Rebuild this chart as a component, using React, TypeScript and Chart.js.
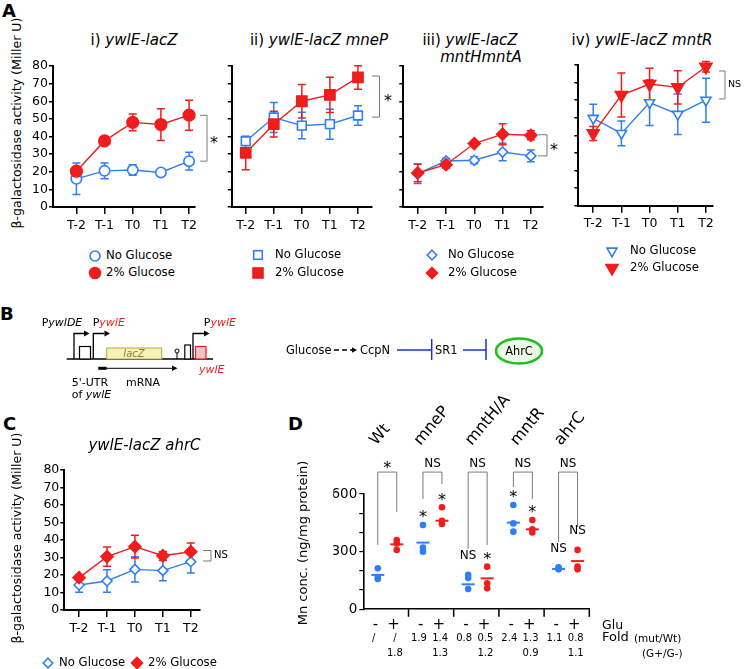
import React, { useEffect, useRef } from 'react';
import { Chart, registerables } from 'chart.js';

Chart.register(...registerables);

const FONT = '"DejaVu Sans", "Liberation Sans", Arial, sans-serif';
const BLUE = '#2f7ef5';
const RED = '#ef1d1d';
const GRAY = '#7a7a7a';

// ---------------- data ----------------
const timeLabels = ['T-2', 'T-1', 'T0', 'T1', 'T2'];

// A i) ywlE-lacZ
const aWtNoGlc = [16.0, 20.5, 21.0, 19.6, 26.0];
const aWtNoGlcErr = [8.9, 4.5, 3.0, 1.5, 5.0];
const aWtGlc = [20.3, 37.5, 48.0, 46.8, 52.1];
const aWtGlcErr = [2.0, 1.8, 4.8, 9.0, 8.5];
// A ii) ywlE-lacZ mneP
const aMnePNoGlc = [37.3, 50.8, 46.2, 47.0, 51.9];
const aMnePNoGlcErr = [1.5, 8.5, 7.5, 8.5, 5.5];
const aMnePGlc = [30.7, 47.0, 60.0, 63.6, 73.5];
const aMnePGlcErr = [9.5, 7.3, 9.5, 10.0, 6.7];
// A iii) ywlE-lacZ mntHmntA
const aMntHANoGlc = [18.9, 26.1, 26.5, 31.2, 29.0];
const aMntHANoGlcErr = [5.5, 1.5, 2.0, 5.0, 3.3];
const aMntHAGlc = [19.3, 24.0, 36.0, 41.3, 40.7];
const aMntHAGlcErr = [5.0, 2.0, 1.0, 6.0, 2.5];
// A iv) ywlE-lacZ mntR
const aMntRNoGlc = [49.7, 41.1, 58.6, 52.0, 60.0];
const aMntRNoGlcErr = [8.0, 7.0, 13.0, 11.5, 12.5];
const aMntRGlc = [41.1, 62.9, 69.2, 67.3, 79.0];
const aMntRGlcErr = [4.0, 12.5, 9.0, 9.5, 3.0];
// C ywlE-lacZ ahrC
const cAhrCNoGlc = [14.3, 16.6, 23.2, 22.5, 27.6];
const cAhrCNoGlcErr = [4.2, 6.4, 7.2, 5.8, 6.5];
const cAhrCGlc = [18.5, 30.5, 36.2, 31.0, 33.3];
const cAhrCGlcErr = [1.5, 5.5, 6.5, 2.5, 5.0];

// D Mn concentration
const dStrains = ['Wt', 'mneP', 'mntH/A', 'mntR', 'ahrC'];
const dMnNoGlc = [[213, 168, 158], [439, 321, 300], [179, 163, 106], [543, 447, 404], [218, 213, 208]];
const dMnGlc = [[361, 343, 309], [531, 461, 444], [222, 135, 109], [465, 416, 400], [309, 222, 208]];
const dLineNoGlc = [179, 347, 130, 451, 210];
const dLineGlc = [338, 461, 161, 416, 251];
const dPairSig = ['*', 'NS', 'NS', 'NS', 'NS'];
const dNoGlcSig = ['', '*', 'NS', '*', 'NS'];
const dGlcSig = ['', '*', '*', '*', 'NS'];
const dBracketTop = 714;
const dBracketEndNoGlc = [335, 574, 314, 636, 350];
const dBracketEndGlc = [507, 652, 335, 574, 428];
const dGluLabels = ['-', '+'];
const dFoldNoGlc = ['/', '1.9', '0.8', '2.4', '1.1'];
const dFoldGlc = ['/', '1.4', '0.5', '1.3', '0.8'];
const dFoldGluRatio = ['1.8', '1.3', '1.2', '0.9', '1.1'];

// ---------------- plugins ----------------
const errorBarPlugin = {
  id: 'errorBars',
  beforeDatasetsDraw(chart: any) {
    const { ctx } = chart;
    const xs = chart.scales.x;
    const ys = chart.scales.y;
    for (let di = chart.data.datasets.length - 1; di >= 0; di--) {
      const ds = chart.data.datasets[di];
      if (!ds.errors) continue;
      ctx.save();
      ctx.strokeStyle = ds.borderColor;
      ctx.lineWidth = 1.5;
      ds.data.forEach((p: any, i: number) => {
        const e = ds.errors[i];
        if (!e) return;
        const x = xs.getPixelForValue(p.x);
        const y1 = ys.getPixelForValue(p.y + e);
        const y2 = ys.getPixelForValue(p.y - e);
        ctx.beginPath();
        ctx.moveTo(x, y1);
        ctx.lineTo(x, y2);
        ctx.moveTo(x - 4, y1);
        ctx.lineTo(x + 4, y1);
        ctx.moveTo(x - 4, y2);
        ctx.lineTo(x + 4, y2);
        ctx.stroke();
      });
      ctx.restore();
    }
  },
};

function drawSig(ctx: any, text: string, x: number, yCenter: number, size: number, align: string) {
  ctx.save();
  ctx.fillStyle = '#000';
  ctx.textAlign = align;
  if (text === '*') {
    ctx.font = `${size + 4}px ${FONT}`;
    ctx.textBaseline = 'alphabetic';
    ctx.fillText('*', x, yCenter + 0.58 * (size + 4));
  } else {
    ctx.font = `${size}px ${FONT}`;
    ctx.textBaseline = 'middle';
    ctx.fillText(text, x, yCenter);
  }
  ctx.restore();
}

function bracketPlugin(b: any) {
  return {
    id: 'sigBracket',
    afterDraw(chart: any) {
      const { ctx, chartArea } = chart;
      const ys = chart.scales.y;
      const xa = chartArea.right + b.armFrom;
      const xb = chartArea.right + b.armTo;
      const y1 = ys.getPixelForValue(b.from);
      const y2 = ys.getPixelForValue(b.to);
      ctx.save();
      ctx.strokeStyle = GRAY;
      ctx.lineWidth = 1;
      ctx.beginPath();
      ctx.moveTo(xa, y1);
      ctx.lineTo(xb, y1);
      ctx.lineTo(xb, y2);
      ctx.lineTo(xa, y2);
      ctx.stroke();
      ctx.restore();
      drawSig(ctx, b.text, chartArea.right + b.textDx, (y1 + y2) / 2, b.textSize, 'left');
    },
  };
}

// ---------------- configs ----------------
const axisGrid = (len: number) => ({
  display: true,
  drawOnChartArea: false,
  drawTicks: true,
  tickLength: len,
  color: '#000',
  lineWidth: 1.5,
});
const axisBorder = { display: true, color: '#000', width: 2 };

function timeConfig(spec: any) {
  const yW = spec.yLabels ? 30 : 8;
  const xH = 32;
  const r = spec.rect;
  const padding = {
    left: spec.axisX - r.left - yW,
    right: r.left + r.width - spec.plotRight,
    top: spec.plotTop - r.top,
    bottom: r.top + r.height - spec.plotBottom - xH,
  };
  return {
    type: 'line',
    data: {
      datasets: spec.series.map((s: any) => ({
        label: s.label,
        data: s.values.map((v: number, i: number) => ({ x: i, y: v })),
        errors: s.errors,
        borderColor: s.color,
        backgroundColor: s.filled ? s.color : '#ffffff',
        borderWidth: 1.4,
        pointStyle: s.pointStyle,
        pointRadius: s.radius,
        pointRotation: s.rotation || 0,
        pointBorderWidth: 1.6,
        pointBackgroundColor: s.filled ? s.color : '#ffffff',
        pointBorderColor: s.color,
        tension: 0,
        fill: false,
        clip: false,
      })),
    },
    options: {
      responsive: false,
      animation: false,
      devicePixelRatio: 1,
      events: [],
      layout: { padding },
      plugins: { legend: { display: false }, tooltip: { enabled: false }, title: { display: false } },
      scales: {
        x: {
          type: 'linear',
          min: spec.xMin,
          max: spec.xMax,
          afterBuildTicks: (sc: any) => {
            sc.ticks = timeLabels.map((_, i) => ({ value: i }));
          },
          afterFit: (sc: any) => {
            sc.height = xH;
          },
          ticks: {
            autoSkip: false,
            maxRotation: 0,
            padding: 4,
            color: '#000',
            font: { family: FONT, size: 12.5 },
            callback: (v: number) => timeLabels[Math.round(v)] ?? '',
          },
          grid: axisGrid(7),
          border: axisBorder,
        },
        y: {
          min: 0,
          max: 80,
          afterFit: (sc: any) => {
            sc.width = yW;
          },
          ticks: {
            stepSize: 10,
            autoSkip: false,
            padding: 1,
            color: '#000',
            font: { family: FONT, size: 12.5 },
            callback: (v: number) => (spec.yLabels ? String(v) : ''),
          },
          grid: axisGrid(4),
          border: axisBorder,
        },
      },
    },
    plugins: [errorBarPlugin, bracketPlugin(spec.bracket)],
  };
}

const D_OFF_NO = 0.32;
const D_OFF_G = 0.74;
const D_TICK_NO = 0.27;
const D_TICK_G = 0.67;
const D_FOLD_NO = 0.23;
const D_FOLD_G = 0.7;

function dConfig(rect: any) {
  const axisX = 363.3;
  const plotRight = 589.3;
  const plotTop = 494;
  const plotBottom = 609.3;
  const yW = 30;
  const xH = 30;
  const ox = rect.left;
  const oy = rect.top;
  const padding = {
    left: axisX - ox - yW,
    right: ox + rect.width - plotRight,
    top: plotTop - oy,
    bottom: oy + rect.height - plotBottom - xH,
  };
  const dots = (arr: number[][], off: number) => arr.flatMap((vals, g) => vals.map((v) => ({ x: g + off, y: v })));
  const means = (arr: number[], off: number) => arr.map((v, g) => ({ x: g + off, y: v }));
  const dotSet = (label: string, data: any, color: string) => ({
    label,
    data,
    pointStyle: 'circle',
    pointRadius: 3.3,
    pointBorderWidth: 0,
    pointBackgroundColor: color,
    pointBorderColor: color,
    backgroundColor: color,
    borderColor: color,
    clip: false,
  });
  const lineSet = (label: string, data: any, color: string) => ({
    label,
    data,
    pointStyle: 'line',
    pointRadius: 6.5,
    pointBorderWidth: 2,
    pointBorderColor: color,
    borderColor: color,
    backgroundColor: color,
    clip: false,
  });
  const annot = {
    id: 'dAnnot',
    afterDraw(chart: any) {
      const { ctx, chartArea } = chart;
      const xs = chart.scales.x;
      const ys = chart.scales.y;
      const px = (v: number) => xs.getPixelForValue(v);
      const py = (v: number) => ys.getPixelForValue(v);
      ctx.save();
      // group separator ticks
      ctx.strokeStyle = '#000';
      ctx.lineWidth = 1.5;
      for (let g = 1; g <= dStrains.length; g++) {
        ctx.beginPath();
        ctx.moveTo(px(g), chartArea.bottom);
        ctx.lineTo(px(g), chartArea.bottom + 7.5);
        ctx.stroke();
      }
      // brackets
      ctx.strokeStyle = GRAY;
      ctx.lineWidth = 1;
      const topY = py(dBracketTop);
      dStrains.forEach((_, g) => {
        const xl = px(g + D_OFF_NO);
        const xr = px(g + D_OFF_G);
        ctx.beginPath();
        ctx.moveTo(xl, py(dBracketEndNoGlc[g]));
        ctx.lineTo(xl, topY);
        ctx.lineTo(xr, topY);
        ctx.lineTo(xr, py(dBracketEndGlc[g]));
        ctx.stroke();
        drawSig(ctx, dPairSig[g], (xl + xr) / 2, topY - 8, 12, 'center');
        const mxNo = Math.max(...dMnNoGlc[g]);
        const mxG = Math.max(...dMnGlc[g]);
        if (dNoGlcSig[g]) drawSig(ctx, dNoGlcSig[g], xl, py(mxNo) - (dNoGlcSig[g] === '*' ? 12 : 19), 12, 'center');
        if (dGlcSig[g]) drawSig(ctx, dGlcSig[g], xr, py(mxG) - (dGlcSig[g] === '*' ? 12 : 19), 12, 'center');
      });
      // rotated strain labels
      const labelOffsets = [13, 12, 18, 18, 17];
      ctx.fillStyle = '#000';
      ctx.font = `16px ${FONT}`;
      ctx.textAlign = 'left';
      ctx.textBaseline = 'alphabetic';
      dStrains.forEach((s, g) => {
        ctx.save();
        ctx.translate(px(g) + labelOffsets[g], 446 - oy);
        ctx.rotate((-50 * Math.PI) / 180);
        ctx.fillText(s, 0, 0);
        ctx.restore();
      });
      // Glu / Fold rows
      ctx.textBaseline = 'middle';
      ctx.textAlign = 'center';
      ctx.font = `10px ${FONT}`;
      dStrains.forEach((_, g) => {
        ctx.fillText(dFoldNoGlc[g], px(g + D_FOLD_NO), 638 - oy);
        ctx.fillText(dFoldGlc[g], px(g + D_FOLD_G), 638 - oy);
        ctx.fillText(dFoldGluRatio[g], px(g + D_FOLD_G), 653 - oy);
      });
      ctx.textAlign = 'left';
      ctx.font = `12.5px ${FONT}`;
      ctx.fillText('Glu', 602 - ox, 626 - oy);
      ctx.font = `13px ${FONT}`;
      ctx.fillText('Fold', 602 - ox, 638 - oy);
      ctx.font = `10.5px ${FONT}`;
      ctx.fillText('(mut/Wt)', 634 - ox, 639 - oy);
      ctx.fillText('(G+/G-)', 642 - ox, 654 - oy);
      ctx.restore();
    },
  };
  return {
    type: 'scatter',
    data: {
      datasets: [
        lineSet('G+ mean', means(dLineGlc, D_OFF_G), RED),
        lineSet('G- mean', means(dLineNoGlc, D_OFF_NO), BLUE),
        dotSet('Glucose +', dots(dMnGlc, D_OFF_G), RED),
        dotSet('Glucose -', dots(dMnNoGlc, D_OFF_NO), BLUE),
      ],
    },
    options: {
      responsive: false,
      animation: false,
      devicePixelRatio: 1,
      events: [],
      layout: { padding },
      plugins: { legend: { display: false }, tooltip: { enabled: false } },
      scales: {
        x: {
          type: 'linear',
          min: 0,
          max: dStrains.length,
          afterBuildTicks: (sc: any) => {
            sc.ticks = dStrains.flatMap((_, g) => [{ value: g + D_TICK_NO }, { value: g + D_TICK_G }]);
          },
          afterFit: (sc: any) => {
            sc.height = xH;
          },
          ticks: {
            autoSkip: false,
            maxRotation: 0,
            padding: 7,
            color: '#000',
            font: { family: FONT, size: 15 },
            callback: (_v: number, i: number) => dGluLabels[i % 2],
          },
          grid: { display: true, drawOnChartArea: false, drawTicks: false },
          border: { display: true, color: '#000', width: 1.6 },
        },
        y: {
          min: 0,
          max: 600,
          afterFit: (sc: any) => {
            sc.width = yW;
          },
          ticks: {
            stepSize: 100,
            autoSkip: false,
            padding: 2,
            color: '#000',
            font: { family: FONT, size: 13.5 },
            callback: (v: number) => (v % 300 === 0 ? String(v) : ''),
          },
          grid: { display: true, drawOnChartArea: false, drawTicks: true, tickLength: 4, color: '#000', lineWidth: 1.2 },
          border: { display: true, color: '#000', width: 1.6 },
        },
      },
    },
    plugins: [annot],
  };
}

// ---------------- panel specs ----------------
const S = (label: string, values: number[], errors: number[], color: string, filled: boolean, pointStyle: string, radius: number, rotation = 0) => ({
  label, values, errors, color, filled, pointStyle, radius, rotation,
});

const specs = [
  {
    rect: { left: 0, top: 55, width: 230, height: 190 },
    axisX: 53, plotRight: 195, plotTop: 66, plotBottom: 207, xMin: -0.83, xMax: 4.21, yLabels: true,
    series: [
      S('2% Glucose', aWtGlc, aWtGlcErr, RED, true, 'circle', 5.8),
      S('No Glucose', aWtNoGlc, aWtNoGlcErr, BLUE, false, 'circle', 5.2),
    ],
    bracket: { from: 52, to: 26, armFrom: 5, armTo: 12, text: '*', textDx: 15, textSize: 12 },
  },
  {
    rect: { left: 215, top: 55, width: 185, height: 190 },
    axisX: 231.7, plotRight: 372, plotTop: 66, plotBottom: 207, xMin: -0.5, xMax: 4.5, yLabels: false,
    series: [
      S('2% Glucose', aMnePGlc, aMnePGlcErr, RED, true, 'rect', 7.2),
      S('No Glucose', aMnePNoGlc, aMnePNoGlcErr, BLUE, false, 'rect', 6.2),
    ],
    bracket: { from: 74.3, to: 51, armFrom: 0, armTo: 7.5, text: '*', textDx: 12, textSize: 12 },
  },
  {
    rect: { left: 390, top: 55, width: 180, height: 190 },
    axisX: 403.3, plotRight: 543, plotTop: 66, plotBottom: 207, xMin: -0.51, xMax: 4.43, yLabels: false,
    series: [
      S('2% Glucose', aMntHAGlc, aMntHAGlcErr, RED, true, 'rectRot', 6),
      S('No Glucose', aMntHANoGlc, aMntHANoGlcErr, BLUE, false, 'rectRot', 5),
    ],
    bracket: { from: 41, to: 29, armFrom: -5, armTo: 4, text: '*', textDx: 7, textSize: 12 },
  },
  {
    rect: { left: 565, top: 55, width: 179, height: 190 },
    axisX: 578.3, plotRight: 713, plotTop: 65, plotBottom: 205.7, xMin: -0.53, xMax: 4.25, yLabels: false,
    series: [
      S('2% Glucose', aMntRGlc, aMntRGlcErr, RED, true, 'triangle', 7, 180),
      S('No Glucose', aMntRNoGlc, aMntRNoGlcErr, BLUE, false, 'triangle', 5.8, 180),
    ],
    bracket: { from: 76.6, to: 60.7, armFrom: 6, armTo: 12, text: 'NS', textDx: 15, textSize: 9.5 },
  },
];

const specC = {
  rect: { left: 0, top: 460, width: 240, height: 190 },
  axisX: 64.3, plotRight: 200, plotTop: 470, plotBottom: 610, xMin: -0.53, xMax: 4.33, yLabels: true,
  series: [
    S('2% Glucose', cAhrCGlc, cAhrCGlcErr, RED, true, 'rectRot', 6),
    S('No Glucose', cAhrCNoGlc, cAhrCNoGlcErr, BLUE, false, 'rectRot', 5),
  ],
  bracket: { from: 34, to: 28, armFrom: 3, armTo: 11, text: 'NS', textDx: 14, textSize: 10 },
};

const rectD = { left: 300, top: 390, width: 444, height: 279 };

// ---------------- components ----------------
function ChartCanvas({ rect, build }: { rect: any; build: () => any }) {
  const ref = useRef<HTMLCanvasElement>(null);
  useEffect(() => {
    const chart = new Chart(ref.current as HTMLCanvasElement, build());
    return () => chart.destroy();
  }, []);
  return (
    <canvas
      ref={ref}
      width={rect.width}
      height={rect.height}
      style={{ position: 'absolute', left: rect.left, top: rect.top, width: rect.width, height: rect.height }}
    />
  );
}

function Txt({ x, y, size, children, anchor = 'middle', color = '#000', weight = 'normal', rotate = 0 }: any) {
  const tx = anchor === 'start' ? '0' : anchor === 'end' ? '-100%' : '-50%';
  return (
    <div
      style={{
        position: 'absolute',
        left: x,
        top: y,
        transform: `translate(${tx}, -50%)${rotate ? ` rotate(${rotate}deg)` : ''}`,
        fontFamily: FONT,
        fontSize: size,
        lineHeight: 1,
        whiteSpace: 'nowrap',
        color,
        fontWeight: weight,
      }}
    >
      {children}
    </div>
  );
}

function Marker({ x, y, shape, filled, color, r }: any) {
  const s = 18;
  const c = s / 2;
  let el: any;
  if (shape === 'circle') el = <circle cx={c} cy={c} r={r} />;
  else if (shape === 'square') el = <rect x={c - r} y={c - r} width={2 * r} height={2 * r} />;
  else if (shape === 'diamond') el = <polygon points={`${c},${c - r} ${c + r},${c} ${c},${c + r} ${c - r},${c}`} />;
  else el = <polygon points={`${c - 0.866 * r},${c - 0.5 * r} ${c + 0.866 * r},${c - 0.5 * r} ${c},${c + r}`} />;
  return (
    <svg width={s} height={s} style={{ position: 'absolute', left: x - c, top: y - c }}>
      <g fill={filled ? color : '#fff'} stroke={color} strokeWidth={1.6}>
        {el}
      </g>
    </svg>
  );
}

const YLABEL_A = 'β-galactosidase activity (Miller U)';

function PanelB() {
  const it = { fontStyle: 'italic' } as any;
  return (
    <svg width={744} height={669} style={{ position: 'absolute', left: 0, top: 0 }} fontFamily={FONT}>
      {/* gene diagram */}
      <line x1={66.7} y1={359} x2={213} y2={359} stroke="#000" strokeWidth={1.5} />
      <path d="M74 359 V333.5 H84" fill="none" stroke="#000" strokeWidth={1.3} />
      <polygon points="84,330.5 89.5,333.5 84,336.5" fill="#000" />
      <rect x={79.5} y={346.5} width={11} height={12.5} fill="#fff" stroke="#000" strokeWidth={1.2} />
      <path d="M93.3 359 V333.5 H104.5" fill="none" stroke="#000" strokeWidth={1.3} />
      <polygon points="104.5,330.5 110,333.5 104.5,336.5" fill="#000" />
      <rect x={106.7} y={348} width={55} height={11} fill="#f6f1b4" stroke="#b7a93a" strokeWidth={1} />
      <text x={134} y={357} fontSize={10} textAnchor="middle" fill="#8c8038" style={it}>lacZ</text>
      <line x1={177} y1={359} x2={177} y2={353} stroke="#000" strokeWidth={1} />
      <circle cx={177} cy={351} r={2} fill="#fff" stroke="#000" strokeWidth={1} />
      <rect x={184.8} y={345} width={5.7} height={14} fill="#fff" stroke="#000" strokeWidth={1.2} />
      <path d="M193 359 V333.5 H204" fill="none" stroke="#000" strokeWidth={1.3} />
      <polygon points="204,330.5 209.5,333.5 204,336.5" fill="#000" />
      <rect x={195.5} y={346.5} width={10.5} height={12.5} fill="#f7c2c2" stroke={RED} strokeWidth={1.2} />
      <text x={41.7} y={326} fontSize={11}>P<tspan style={it}>ywlDE</tspan></text>
      <text x={92.7} y={326} fontSize={11}>P<tspan style={it} fill={RED}>ywlE</tspan></text>
      <text x={203.8} y={326} fontSize={11}>P<tspan style={it} fill={RED}>ywlE</tspan></text>
      <text x={199} y={373} fontSize={11} fill={RED} style={it}>ywlE</text>
      <line x1={98.3} y1={368.3} x2={106.7} y2={368.3} stroke="#000" strokeWidth={3} />
      <line x1={106.7} y1={368.3} x2={172} y2={368.3} stroke="#000" strokeWidth={1} />
      <polygon points="172,365.5 177.5,368.3 172,371.1" fill="#000" />
      <text x={71.7} y={386} fontSize={11}>5'-UTR</text>
      <text x={126} y={386} fontSize={11}>mRNA</text>
      <text x={71.7} y={398} fontSize={11}>of <tspan style={it}>ywlE</tspan></text>
      {/* regulatory cascade */}
      <text x={286} y={354} fontSize={11.4}>Glucose</text>
      <line x1={334} y1={350} x2={352} y2={350} stroke="#000" strokeWidth={1.3} strokeDasharray="5 3" />
      <polygon points="352,347.3 357,350 352,352.7" fill="#000" />
      <text x={360} y={354} fontSize={11.4}>CcpN</text>
      <line x1={397} y1={350} x2={431.7} y2={350} stroke="#1a2fd8" strokeWidth={1.5} />
      <line x1={431.7} y1={339} x2={431.7} y2={360} stroke="#1a2fd8" strokeWidth={1.5} />
      <text x={435} y={354} fontSize={11.4}>SR1</text>
      <line x1={463} y1={350} x2={486} y2={350} stroke="#1a2fd8" strokeWidth={1.5} />
      <line x1={486} y1={339} x2={486} y2={360} stroke="#1a2fd8" strokeWidth={1.5} />
      <ellipse cx={519} cy={351} rx={23} ry={12.5} fill="#eef9e8" stroke="#1fbf1f" strokeWidth={2.6} />
      <text x={519} y={355} fontSize={11.4} textAnchor="middle">AhrC</text>
    </svg>
  );
}

export default function App() {
  return (
    <div style={{ position: 'absolute', left: 0, top: 0, width: 744, height: 669, background: '#fff', overflow: 'hidden' }}>
      {/* Panel letters */}
      <Txt x={2} y={11} size={18} anchor="start" weight="bold">A</Txt>
      <Txt x={0} y={314} size={18} anchor="start" weight="bold">B</Txt>
      <Txt x={3} y={424} size={18} anchor="start" weight="bold">C</Txt>
      <Txt x={288} y={424} size={18} anchor="start" weight="bold">D</Txt>

      {/* Panel A titles */}
      <Txt x={134} y={40} size={15}>i) <i>ywlE-lacZ</i></Txt>
      <Txt x={319} y={40} size={15}>ii) <i>ywlE-lacZ mneP</i></Txt>
      <Txt x={470} y={40} size={15}>iii) <i>ywlE-lacZ</i></Txt>
      <Txt x={481} y={57} size={15}><i>mntHmntA</i></Txt>
      <Txt x={642} y={40} size={15}>iv) <i>ywlE-lacZ mntR</i></Txt>
      <Txt x={16.5} y={123} size={12.6} rotate={-90}>{YLABEL_A}</Txt>

      {specs.map((sp, i) => (
        <ChartCanvas key={i} rect={sp.rect} build={() => timeConfig(sp)} />
      ))}

      {/* Panel A legends */}
      <Marker x={95} y={256} shape="circle" filled={false} color={BLUE} r={5} />
      <Txt x={106} y={256} size={11.7} anchor="start">No Glucose</Txt>
      <Marker x={95} y={273} shape="circle" filled color={RED} r={5.5} />
      <Txt x={106} y={273} size={11.7} anchor="start">2% Glucose</Txt>

      <Marker x={258} y={255} shape="square" filled={false} color={BLUE} r={4.3} />
      <Txt x={275} y={255} size={11.7} anchor="start">No Glucose</Txt>
      <Marker x={258} y={273} shape="square" filled color={RED} r={5} />
      <Txt x={275} y={273} size={11.7} anchor="start">2% Glucose</Txt>

      <Marker x={432} y={255} shape="diamond" filled={false} color={BLUE} r={4.8} />
      <Txt x={448} y={255} size={11.7} anchor="start">No Glucose</Txt>
      <Marker x={432} y={273} shape="diamond" filled color={RED} r={5.5} />
      <Txt x={448} y={273} size={11.7} anchor="start">2% Glucose</Txt>

      <Marker x={612} y={251} shape="triangle" filled={false} color={BLUE} r={5.8} />
      <Txt x={630} y={251} size={11.7} anchor="start">No Glucose</Txt>
      <Marker x={612} y={268} shape="triangle" filled color={RED} r={7} />
      <Txt x={630} y={268} size={11.7} anchor="start">2% Glucose</Txt>

      <PanelB />

      {/* Panel C */}
      <Txt x={144.5} y={445} size={15}><i>ywlE-lacZ ahrC</i></Txt>
      <Txt x={17} y={538} size={12.6} rotate={-90}>{YLABEL_A}</Txt>
      <ChartCanvas rect={specC.rect} build={() => timeConfig(specC)} />
      <Marker x={48} y={663} shape="diamond" filled={false} color={BLUE} r={4.8} />
      <Txt x={59} y={663} size={11.7} anchor="start">No Glucose</Txt>
      <Marker x={137} y={663} shape="diamond" filled color={RED} r={5.5} />
      <Txt x={148} y={663} size={11.7} anchor="start">2% Glucose</Txt>

      {/* Panel D */}
      <Txt x={302} y={543} size={13} rotate={-90}>Mn conc. (ng/mg protein)</Txt>
      <ChartCanvas rect={rectD} build={() => dConfig(rectD)} />
    </div>
  );
}
